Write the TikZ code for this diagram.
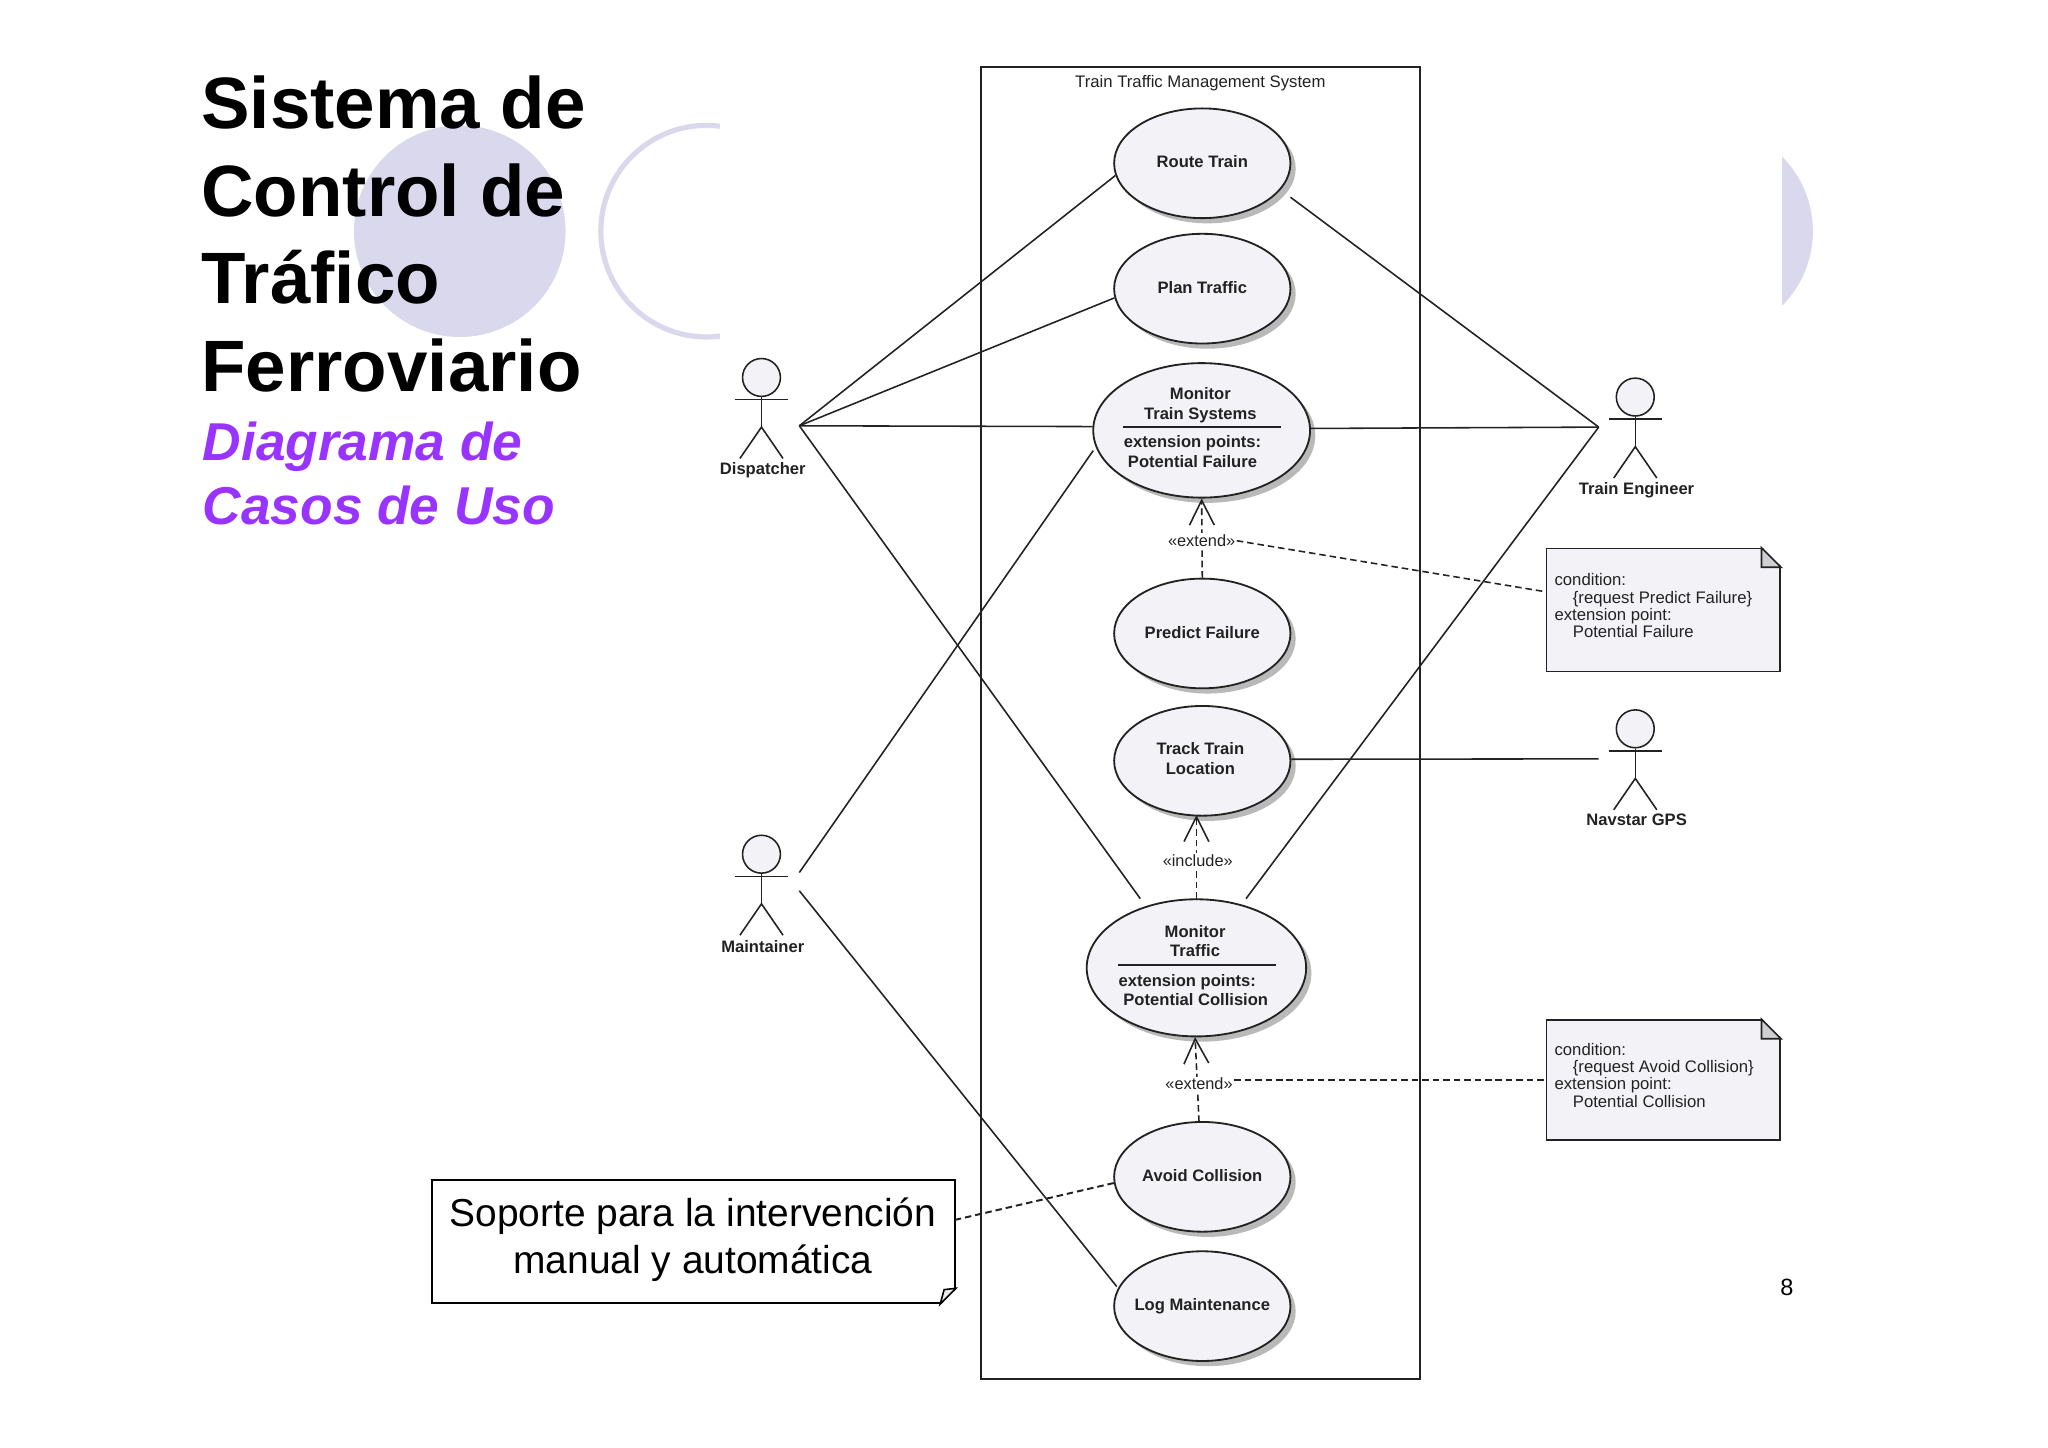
\documentclass[tikz,border=0pt]{standalone}
\usepackage{fontspec}
\setmainfont{Liberation Sans}
\usetikzlibrary{arrows.meta,shapes.geometric,shadows}
\definecolor{slidelilac}{HTML}{DAD8EC}
\definecolor{casefill}{HTML}{F3F2F7}
\definecolor{foldgray}{HTML}{CFCFD3}
\definecolor{subtitlepurple}{HTML}{9933FF}
\definecolor{inkgray}{HTML}{222222}
\tikzset{
    usecase/.style={draw=inkgray,fill=casefill,ellipse,line width=1.4pt,inner ysep=0pt,inner xsep=-12pt,
        minimum width=135pt,minimum height=84pt,text height=11pt,text depth=4pt,
        font=\fontsize{12.7}{15}\bfseries,text=inkgray,
        drop shadow={shadow xshift=4pt,shadow yshift=-4pt,fill=gray,opacity=0.55}},
    casetext/.style={align=center,inner sep=0pt,font=\fontsize{12.7}{15.2}\bfseries,text=inkgray},
    actorhead/.style={draw=inkgray,fill=casefill,circle,line width=1.2pt,inner sep=0pt,minimum size=29pt},
    actorlabel/.style={inner sep=0pt,font=\fontsize{12.7}{15}\bfseries,text=inkgray},
    assoc/.style={draw=inkgray,line width=1.2pt},
    depend/.style={draw=inkgray,line width=1.2pt,dash pattern=on 5pt off 3pt},
    openhead/.style={-{Straight Barb[length=19pt,width=19pt,line width=1.2pt]}},
    stereo/.style={fill=white,inner sep=1pt,font=\fontsize{12.5}{15}\selectfont,text=inkgray},
    notebox/.style={draw=inkgray,fill=casefill,line width=1.3pt,inner sep=0pt,minimum width=179pt},
    notetext/.style={anchor=north west,inner sep=0pt,align=left,font=\fontsize{12.8}{13.2}\selectfont,text=inkgray},
    actor/.pic={
        \node[actorhead] (-head) at (0,0) {};
        \draw[assoc] (-20.5,17) -- (20.5,17);
        \draw[assoc] (-head) -- (0,38);
        \draw[assoc] (-16.5,62) -- (0,38) -- (16.5,62);
    }
}
\newcommand{\notefold}[1]{
    \fill[white] ([shift={(-15pt,1pt)}]#1.north east) -- ([shift={(1pt,1pt)}]#1.north east)
        -- ([shift={(1pt,-15pt)}]#1.north east) -- cycle;
    \draw[draw=inkgray,fill=foldgray,line width=1.3pt,line join=miter] ([xshift=-15pt]#1.north east)
        -- ([yshift=-15pt]#1.north east) -- ([shift={(-15pt,-15pt)}]#1.north east) -- cycle;
}
\begin{document}
\begin{tikzpicture}[x=1pt,y=-1pt]
        \useasboundingbox (0,0) rectangle (1568,1107.9);

        % slide background
        \fill[slidelilac] (352,177) circle[radius=81];
        \draw[slidelilac,line width=4pt] (541,177) circle[radius=81];
        \fill[slidelilac] (1307,177) circle[radius=81];
        \fill[white] (551,0) rectangle (1364,1107.9);

        \node[anchor=north west,inner sep=0pt,align=left,font=\fontsize{55.7}{67}\bfseries] (title) at (154,58)
            {Sistema de\\Control de\\Tráfico\\Ferroviario};
        \node[anchor=north west,inner sep=0pt,align=left,text=subtitlepurple,font=\fontsize{40.8}{49}\bfseries\itshape] (subtitle) at (155,323)
            {Diagrama de\\Casos de Uso};

        % system boundary
        \node[draw=inkgray,line width=1.4pt,minimum width=336pt,minimum height=1005pt,inner sep=0pt] (system) at (919,553.5) {};
        \node[inner sep=0pt,font=\fontsize{12.8}{15}\selectfont,text=inkgray] (systemname) at (919,64) {Train Traffic Management System};

        % use cases
        \node[usecase] (route)   at (920.5, 125)   {Route Train};
        \node[usecase] (plan)    at (920.5, 221)   {Plan Traffic};
        \node[usecase,minimum width=166pt,minimum height=103pt] (systems) at (920, 329.5) {};
        \node[usecase] (predict) at (920.5, 485)   {Predict Failure};
        \node[usecase] (track)   at (920.5, 582.5) {};
        \node[usecase,minimum width=168pt,minimum height=105pt] (traffic) at (916, 741) {};
        \node[usecase] (avoid)   at (920.5, 901)   {Avoid Collision};
        \node[usecase] (log)     at (920.5, 1000)  {Log Maintenance};

        \node[casetext] (trackname)   at (919, 581)   {Track Train\\Location};
        \node[casetext] (systemsname) at (919, 310)   {Monitor\\Train Systems};
        \draw[assoc] (860,327) -- (981,327);
        \node[casetext] (systemsext)  at (913, 346)   {extension points:\\Potential Failure};

        \node[casetext] (trafficname) at (915, 720.5) {Monitor\\Traffic};
        \draw[assoc] (856,739) -- (977,739);
        \node[casetext] (trafficext)  at (915.5, 758) {extension points:\hspace*{13pt}\\Potential Collision};

        % actors
        \pic (dispatcher) at (583, 289) {actor};
        \pic (maintainer) at (583, 654) {actor};
        \pic (engineer)   at (1252, 304) {actor};
        \pic (navstar)    at (1252, 558) {actor};

        \node[actorlabel] (dispatcherlabel) at (584, 360)  {Dispatcher};
        \node[actorlabel] (maintainerlabel) at (584, 725)  {Maintainer};
        \node[actorlabel] (engineerlabel)   at (1253, 375) {Train Engineer};
        \node[actorlabel] (navstarlabel)    at (1253, 628) {Navstar GPS};

        % connector ends
        \coordinate (dispatcherport) at (612, 326);
        \coordinate (engineerport)   at (1224, 327);
        \coordinate (navstarport)    at (1224, 581);
        \coordinate (maintainerupper) at (612, 668);
        \coordinate (maintainerlower) at (612, 682);
        \coordinate (routeeast)   at (988, 151);
        \coordinate (systemslow)  at (837, 345);
        \coordinate (trafficleft) at (873, 688);
        \coordinate (trafficright) at (954, 688);
        \coordinate (logleft)     at (855, 985);
        \coordinate (noteoneport) at (1183, 453);
        \coordinate (remarkport)  at (731, 934);

        \draw[assoc] (dispatcherport) -- (route.188);
        \draw[assoc] (dispatcherport) -- (plan.186);
        \draw[assoc] (dispatcherport) -- (systems.178);
        \draw[assoc] (dispatcherport) -- (trafficleft);
        \draw[assoc] (maintainerupper) -- (systemslow);
        \draw[assoc] (maintainerlower) -- (logleft);
        \draw[assoc] (engineerport) -- (routeeast);
        \draw[assoc] (engineerport) -- (systems.1);
        \draw[assoc] (engineerport) -- (trafficright);
        \draw[assoc] (navstarport) -- (track.1);

        % dependencies
        \draw[depend,openhead] (predict.north) -- (systems.south);
        \draw[depend,openhead] (916,688) -- (916,624);
        \draw[depend,openhead] (918,859) -- (915,794);

        \node[stereo] (extendone) at (920, 414) {«extend»};
        \node[stereo] (include)   at (917, 659) {«include»};
        \node[stereo] (extendtwo) at (918, 830) {«extend»};

        % notes
        \node[notebox,minimum height=94pt] (noteone) at (1273.5, 467) {};
        \notefold{noteone}
        \node[notetext] (noteonetext) at (1190, 439)
            {condition:\\\hspace*{14pt}\{request Predict Failure\}\\extension point:\\\hspace*{14pt}Potential Failure};

        \node[notebox,minimum height=92pt] (notetwo) at (1273.5, 827) {};
        \notefold{notetwo}
        \node[notetext] (notetwotext) at (1190, 798.5)
            {condition:\\\hspace*{14pt}\{request Avoid Collision\}\\extension point:\\\hspace*{14pt}Potential Collision};

        \draw[depend] (extendone.east) -- (noteoneport);
        \draw[depend] ([yshift=3pt]extendtwo.east) -- (notetwo.west);

        % remark
        \node[draw=black,fill=white,line width=1.7pt,minimum width=400pt,minimum height=94pt,inner sep=0pt] (remark) at (531, 950.5) {};
        \node[inner sep=0pt,align=center,font=\fontsize{29.8}{36}\selectfont] (remarktext) at (530.5, 949) {Soporte para la intervención\\manual y automática};
        \fill[white] ([shift={(-12pt,-1pt)}]remark.south east) -- ([shift={(1pt,-1pt)}]remark.south east)
            -- ([shift={(1pt,12pt)}]remark.south east) -- cycle;
        \draw[line width=1.2pt,fill=foldgray!40] ([xshift=-12pt]remark.south east) -- ([yshift=12pt]remark.south east)
            -- ([shift={(-9pt,11pt)}]remark.south east) -- cycle;
        \draw[depend,line width=1.5pt] (remarkport) -- (avoid.184);

        \node[inner sep=0pt,font=\fontsize{18}{20}\selectfont] (pagenumber) at (1368, 986) {8};
    \end{tikzpicture}
\end{document}
